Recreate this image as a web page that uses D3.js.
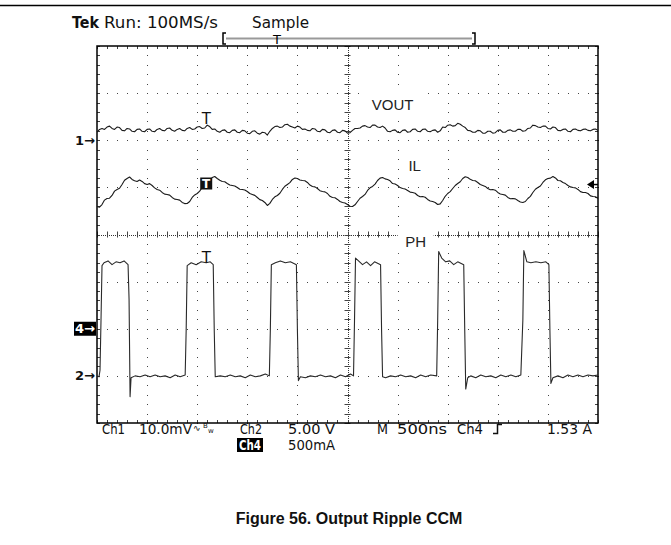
<!DOCTYPE html>
<html>
<head>
<meta charset="utf-8">
<script src="https://d3js.org/d3.v7.min.js"></script>
<style>
  body { margin: 0; background: #fff; }
  svg { display: block; }
</style>
</head>
<body>
<svg></svg>
<script>
// Tek scope capture: Output Ripple CCM (500 ns/div, 10 divisions)

let width = 671,
    height = 545;

// screen frame (graticule)
let X0 = 97, X1 = 598, Y0 = 46, Y1 = 423;

// sampling of the smooth traces (ns between samples)
let sampleNs = 25;

// CH1 VOUT ripple, mV above its ground marker, one sample every 25 ns
let voutMv = [
  1.7, 2.3, 2.5, 2.3, 2.8, 3.0, 2.5, 2.3, 2.8, 2.7, 2.1, 2.0, 2.5, 2.4, 1.9, 1.8, 2.3, 2.4, 1.9, 1.8,
  2.3, 2.4, 1.9, 1.8, 2.3, 2.5, 2.1, 2.0, 2.5, 2.6, 2.1, 1.9, 2.3, 2.5, 2.1, 2.0, 2.5, 2.7, 2.3, 2.4,
  2.8, 2.9, 2.5, 2.6, 3.2, 2.9, 2.3, 2.4, 1.9, 1.7, 2.1, 2.2, 1.7, 1.6, 2.1, 2.2, 1.7, 1.6, 2.1, 2.0,
  1.5, 1.4, 1.9, 2.0, 1.5, 1.3, 1.7, 1.6, 1.1, 1.9, 2.5, 2.9, 3.0, 2.7, 2.8, 3.3, 3.4, 3.0, 2.8, 2.6,
  3.0, 2.8, 2.3, 2.4, 2.1, 2.0, 2.5, 2.4, 1.9, 1.8, 2.3, 2.2, 1.7, 1.6, 2.1, 2.2, 1.7, 1.6, 2.1, 2.0,
  1.5, 1.6, 2.1, 2.5, 2.5, 2.6, 3.0, 3.1, 2.8, 2.7, 3.2, 3.2, 2.8, 2.7, 3.0, 2.6, 1.9, 1.8, 2.1, 2.2,
  1.7, 1.6, 2.1, 2.2, 1.7, 1.8, 2.3, 2.4, 1.9, 1.8, 2.3, 2.4, 1.9, 1.8, 2.1, 2.2, 1.7, 2.0, 2.8, 2.7,
  3.2, 3.3, 3.0, 3.1, 3.6, 3.4, 3.0, 2.7, 2.1, 2.0, 1.7, 1.7, 2.1, 2.0, 1.5, 1.5, 1.9, 1.9, 1.5, 1.6,
  2.1, 2.2, 1.7, 1.7, 2.1, 2.2, 1.9, 1.9, 2.3, 2.3, 1.9, 2.0, 2.5, 2.6, 3.2, 3.1, 2.8, 2.7, 3.0, 3.0,
  2.5, 2.4, 2.8, 2.7, 2.1, 2.0, 2.3, 2.4, 1.9, 1.8, 2.3, 2.4, 2.1, 2.0, 2.3, 2.4, 2.1, 2.0, 2.3, 2.4,
  2.1
];

// CH4 inductor current IL, amps, one sample every 25 ns
let ilAmps = [
  1.297, 1.290, 1.318, 1.365, 1.382, 1.385, 1.414, 1.460, 1.478, 1.490, 1.531, 1.575, 1.594, 1.610, 1.584, 1.570, 1.563, 1.578, 1.563, 1.540,
  1.531, 1.540, 1.520, 1.495, 1.478, 1.470, 1.446, 1.428, 1.425, 1.418, 1.393, 1.375, 1.372, 1.365, 1.340, 1.328, 1.329, 1.350, 1.393, 1.420,
  1.435, 1.460, 1.499, 1.525, 1.541, 1.570, 1.605, 1.615, 1.594, 1.575, 1.563, 1.560, 1.541, 1.525, 1.520, 1.515, 1.499, 1.480, 1.478, 1.472,
  1.456, 1.435, 1.425, 1.415, 1.393, 1.370, 1.361, 1.340, 1.308, 1.330, 1.372, 1.400, 1.414, 1.438, 1.478, 1.512, 1.531, 1.550, 1.584, 1.600,
  1.594, 1.578, 1.573, 1.570, 1.552, 1.525, 1.510, 1.505, 1.488, 1.465, 1.456, 1.452, 1.435, 1.405, 1.393, 1.390, 1.372, 1.350, 1.340, 1.335,
  1.318, 1.300, 1.297, 1.315, 1.350, 1.385, 1.403, 1.425, 1.467, 1.495, 1.510, 1.535, 1.573, 1.598, 1.605, 1.590, 1.584, 1.570, 1.541, 1.535,
  1.520, 1.498, 1.488, 1.482, 1.467, 1.450, 1.446, 1.438, 1.414, 1.400, 1.403, 1.395, 1.372, 1.355, 1.350, 1.340, 1.318, 1.325, 1.361, 1.405,
  1.435, 1.455, 1.488, 1.520, 1.541, 1.560, 1.594, 1.612, 1.605, 1.585, 1.573, 1.570, 1.552, 1.530, 1.520, 1.510, 1.488, 1.475, 1.478, 1.470,
  1.446, 1.430, 1.425, 1.418, 1.393, 1.380, 1.382, 1.378, 1.361, 1.345, 1.340, 1.350, 1.382, 1.405, 1.446, 1.480, 1.499, 1.515, 1.552, 1.580,
  1.594, 1.598, 1.616, 1.600, 1.573, 1.570, 1.552, 1.540, 1.520, 1.505, 1.499, 1.495, 1.478, 1.455, 1.446, 1.445, 1.435, 1.410, 1.403, 1.400,
  1.382
];

// CH2 phase node PH, breakpoints (time ns, volts)
let phNs = [
  0, 20, 30, 40, 50, 70, 110, 150, 190, 230, 270, 310, 320, 330, 340, 380, 430, 480, 530, 580, 630, 680, 730, 780, 830, 880,
  890, 900, 940, 990, 1040, 1090, 1130, 1160, 1170, 1180, 1230, 1280, 1330, 1380, 1430, 1480, 1530, 1580, 1630, 1680, 1720,
  1730, 1740, 1780, 1830, 1880, 1930, 1990, 2000, 2010, 2030, 2080, 2130, 2180, 2230, 2280, 2330, 2380, 2430, 2480, 2530, 2560,
  2570, 2580, 2610, 2650, 2690, 2730, 2770, 2830, 2840, 2850, 2880, 2930, 2980, 3030, 3080, 3130, 3180, 3230, 3280, 3330, 3390,
  3400, 3410, 3440, 3480, 3520, 3560, 3600, 3660, 3670, 3680, 3700, 3730, 3780, 3830, 3880, 3930, 3980, 4030, 4080, 4130, 4180, 4230,
  4250, 4260, 4290, 4330, 4380, 4430, 4480, 4510, 4520, 4530, 4550, 4600, 4650, 4700, 4750, 4800, 4850, 4900, 4950, 5000
];
let phV = [
  0, -0.1, 0.6, 5.9, 11.7, 12.0, 12.2, 11.8, 12.1, 12.0, 12.2, 11.8, 8.1, -2.2, -0.2, 0, -0.1, 0.1, -0.1, 0.1, -0.1, 0, -0.2, 0.1, -0.1, 0.1,
  4.9, 11.7, 12.0, 11.8, 12.1, 12.0, 12.1, 11.8, 4.9, -0.1, 0, -0.1, 0.1, -0.1, 0, -0.2, 0.1, -0.1, 0, 0.2, 0,
  4.9, 11.8, 12.0, 12.2, 12.0, 12.1, 11.8, 4.9, -0.5, -0.1, -0.2, 0, -0.1, 0.1, -0.1, 0, -0.2, 0.1, -0.1, 0.2, 0,
  5.9, 12.5, 12.2, 11.8, 12.1, 11.7, 12.1, 11.8, 4.9, -0.1, -0.2, 0, -0.1, 0.1, -0.1, 0, -0.2, 0.1, -0.1, 0.1, 0,
  5.9, 13.2, 12.5, 12.1, 12.2, 11.8, 12.1, 11.8, 4.9, -1.4, -0.2, 0, -0.2, 0.1, -0.1, 0, -0.2, 0.1, -0.1, 0.1, -0.1, 0.1,
  5.9, 13.3, 12.1, 12.0, 12.1, 12.0, 12.1, 11.8, 4.9, -0.8, -0.2, 0, -0.2, 0.1, -0.1, 0.1, -0.1, 0.1, 0, 0.1
];

// channel setup: volts (or amps) per division and ground marker offset in divisions
let ch1 = { perDiv: 10, offset: 2 };     // 10.0 mV
let ch2 = { perDiv: 5, offset: -3 };     // 5.00 V
let ch4 = { perDiv: 0.5, offset: -2 };   // 500 mA
let trigNs = 1090;
let trigLevel = 1.53;

let traceLabels = ["VOUT", "IL", "PH"];
let topLine = ["Tek", "Run: 100MS/s", "Sample"];
let bottomLine1 = ["Ch1", "10.0mV", "Ch2", "5.00 V", "M", "500ns", "Ch4", "1.53 A"];
let bottomLine2 = ["Ch4", "500mA"];
let caption = "Figure 56. Output Ripple CCM";

let svg = d3.select("svg")
    .attr("width", width)
    .attr("height", height)
    .style("background", "#fff");

let x = d3.scaleLinear().domain([0, 5000]).range([X0, X1]);
let xDiv = d3.scaleLinear().domain([0, 10]).range([X0, X1]);
let yDiv = d3.scaleLinear().domain([-4, 4]).range([Y1, Y0]);

function chY(ch) {
    return v => yDiv(ch.offset + v / ch.perDiv);
}
let y1 = chY(ch1), y2 = chY(ch2), y4 = chY(ch4);

// page rule on top
svg.append("line").attr("x1", 0).attr("x2", width).attr("y1", 5.5).attr("y2", 5.5)
    .attr("stroke", "#000").attr("stroke-width", 1.5);

// ---------- graticule ----------
let grid = svg.append("g");
let minor = d3.range(0, 10.01, 0.2);
let minorY = d3.range(-4, 4.01, 0.2);

// dotted major lines (dots every minor division)
[1, 2, 3, 4, 6, 7, 8, 9].forEach(i => {
    grid.selectAll(null).data(minorY).enter().append("rect")
        .attr("x", Math.round(xDiv(i)))
        .attr("y", d => Math.round(yDiv(d)))
        .attr("width", 1).attr("height", 1).attr("fill", "#444");
});
[-3, -2, -1, 1, 2, 3].forEach(k => {
    grid.selectAll(null).data(minor).enter().append("rect")
        .attr("x", d => Math.round(xDiv(d)))
        .attr("y", Math.round(yDiv(k)))
        .attr("width", 1).attr("height", 1).attr("fill", "#444");
});

// centre cross hairs with ticks
grid.append("line")
    .attr("x1", X0).attr("x2", X1)
    .attr("y1", Math.round(yDiv(0)) + 0.5).attr("y2", Math.round(yDiv(0)) + 0.5)
    .attr("stroke", "#333").attr("stroke-dasharray", "1,1");
grid.append("line")
    .attr("y1", Y0).attr("y2", Y1)
    .attr("x1", Math.round(xDiv(5)) + 0.5).attr("x2", Math.round(xDiv(5)) + 0.5)
    .attr("stroke", "#333").attr("stroke-dasharray", "1,1");
grid.selectAll(null).data(minor).enter().append("line")
    .attr("x1", d => Math.round(xDiv(d)) + 0.5).attr("x2", d => Math.round(xDiv(d)) + 0.5)
    .attr("y1", yDiv(0) - 3).attr("y2", yDiv(0) + 3)
    .attr("stroke", "#444");
grid.selectAll(null).data(minorY).enter().append("line")
    .attr("y1", d => Math.round(yDiv(d)) + 0.5).attr("y2", d => Math.round(yDiv(d)) + 0.5)
    .attr("x1", xDiv(5) - 3).attr("x2", xDiv(5) + 3)
    .attr("stroke", "#444");

// edge ticks
grid.selectAll(null).data(minor).enter().append("line")
    .attr("x1", d => Math.round(xDiv(d)) + 0.5).attr("x2", d => Math.round(xDiv(d)) + 0.5)
    .attr("y1", Y0).attr("y2", Y0 + 3).attr("stroke", "#444");
grid.selectAll(null).data(minor).enter().append("line")
    .attr("x1", d => Math.round(xDiv(d)) + 0.5).attr("x2", d => Math.round(xDiv(d)) + 0.5)
    .attr("y1", Y1).attr("y2", Y1 - 3).attr("stroke", "#444");
grid.selectAll(null).data(minorY).enter().append("line")
    .attr("y1", d => Math.round(yDiv(d)) + 0.5).attr("y2", d => Math.round(yDiv(d)) + 0.5)
    .attr("x1", X0).attr("x2", X0 + 3).attr("stroke", "#444");
grid.selectAll(null).data(minorY).enter().append("line")
    .attr("y1", d => Math.round(yDiv(d)) + 0.5).attr("y2", d => Math.round(yDiv(d)) + 0.5)
    .attr("x1", X1).attr("x2", X1 - 3).attr("stroke", "#444");

// frame
grid.append("rect")
    .attr("x", X0).attr("y", Y0)
    .attr("width", X1 - X0).attr("height", Y1 - Y0)
    .attr("fill", "none").attr("stroke", "#000").attr("stroke-width", 1.5);

// ---------- trace labels (white boxes over the grid) ----------
let labelPos = [
    { t: 2950, v: 7.6, ch: ch1, w: 54, h: 26 },   // VOUT
    { t: 3170, v: 1.73, ch: ch4, w: 30, h: 22 },  // IL
    { t: 3180, v: 14.3, ch: ch2, w: 36, h: 24 }   // PH (sits on centre line)
];
traceLabels.forEach((name, i) => {
    let p = labelPos[i];
    let cx = x(p.t), cy = chY(p.ch)(p.v);
    svg.append("rect")
        .attr("x", cx - p.w / 2).attr("y", cy - p.h / 2)
        .attr("width", p.w).attr("height", p.h)
        .attr("fill", "#fff");
    svg.append("text")
        .attr("x", cx).attr("y", cy + 5.5)
        .attr("text-anchor", "middle")
        .attr("font-family", "Liberation Sans, Arial, sans-serif")
        .attr("font-size", 15)
        .attr("fill", "#222")
        .text(name);
});

// ---------- traces ----------
let traces = svg.append("g")
    .attr("fill", "none")
    .attr("stroke", "#1a1a1a")
    .attr("stroke-width", 1.1)
    .attr("stroke-linejoin", "round");

traces.append("path")
    .attr("d", d3.line()
        .x((d, i) => x(i * sampleNs))
        .y(d => y1(d))(voutMv));

traces.append("path")
    .attr("d", d3.line()
        .x((d, i) => x(i * sampleNs))
        .y(d => y4(d))(ilAmps));

traces.append("path")
    .attr("stroke", "#2a2a2a")
    .attr("d", d3.line()
        .x((d, i) => x(phNs[i]))
        .y(d => y2(d))(phV));

// trigger "T" markers
let tx = x(trigNs);
let ilAtTrig = ilAmps[Math.round(trigNs / sampleNs)];
let voutAtTrig = voutMv[Math.round(trigNs / sampleNs)];
svg.append("text")
    .attr("x", tx).attr("y", y1(voutAtTrig) - 1)
    .attr("text-anchor", "middle")
    .attr("font-family", "DejaVu Sans, sans-serif").attr("font-size", 15)
    .attr("fill", "#111").text("T");
svg.append("rect")
    .attr("x", tx - 6).attr("y", y4(ilAtTrig) - 6)
    .attr("width", 12).attr("height", 12).attr("fill", "#111");
svg.append("text")
    .attr("x", tx).attr("y", y4(ilAtTrig) + 4.5)
    .attr("text-anchor", "middle")
    .attr("font-family", "DejaVu Sans, sans-serif").attr("font-size", 12).attr("font-weight", "bold")
    .attr("fill", "#fff").text("T");
svg.append("text")
    .attr("x", tx).attr("y", y2(12.0))
    .attr("text-anchor", "middle")
    .attr("font-family", "DejaVu Sans, sans-serif").attr("font-size", 15)
    .attr("fill", "#111").text("T");

// ---------- channel ground markers ----------
let scopeFont = "DejaVu Sans, sans-serif";
function gndMarker(label, yy, inverted) {
    if (inverted) {
        svg.append("rect").attr("x", 74).attr("y", yy - 7)
            .attr("width", 22).attr("height", 14).attr("fill", "#000");
    }
    svg.append("text")
        .attr("x", 95).attr("y", yy + 4.5)
        .attr("text-anchor", "end")
        .attr("font-family", scopeFont).attr("font-size", 13)
        .attr("font-weight", "bold")
        .attr("fill", inverted ? "#fff" : "#111")
        .text(label + "\u2192");
}
gndMarker("1", y1(0), false);
gndMarker("4", y4(0), true);
gndMarker("2", y2(0), false);

// trigger level arrow on the right edge
let ty = y4(trigLevel);
svg.append("path")
    .attr("d", `M${X1 - 11},${ty} L${X1 - 4},${ty - 4.5} L${X1 - 4},${ty + 4.5} Z`)
    .attr("fill", "#000");
svg.append("line").attr("x1", X1 - 5).attr("x2", X1).attr("y1", ty).attr("y2", ty)
    .attr("stroke", "#000").attr("stroke-width", 1.5);

// ---------- header ----------
let head = svg.append("g")
    .attr("font-family", scopeFont).attr("font-size", 15).attr("fill", "#111");
head.append("text").attr("x", 72).attr("y", 28).attr("font-weight", "bold")
    .attr("textLength", 27).attr("lengthAdjust", "spacingAndGlyphs").text(topLine[0]);
head.append("text").attr("x", 104).attr("y", 28)
    .attr("textLength", 114).attr("lengthAdjust", "spacingAndGlyphs").text(topLine[1]);
head.append("text").attr("x", 252).attr("y", 28)
    .attr("textLength", 57).attr("lengthAdjust", "spacingAndGlyphs").text(topLine[2]);

// record window bar with trigger position
let barY = 38.5;
head.append("line").attr("x1", 226).attr("x2", 472).attr("y1", barY).attr("y2", barY)
    .attr("stroke", "#999").attr("stroke-width", 2);
head.append("path").attr("d", `M226,33 H223 V44 H226`).attr("fill", "none")
    .attr("stroke", "#000").attr("stroke-width", 1.5);
head.append("path").attr("d", `M472,33 H475 V44 H472`).attr("fill", "none")
    .attr("stroke", "#000").attr("stroke-width", 1.5);
head.append("text").attr("x", 277).attr("y", 44).attr("text-anchor", "middle")
    .attr("font-size", 13).attr("fill", "#000").text("T");

// ---------- status line ----------
let foot = svg.append("g")
    .attr("font-family", scopeFont).attr("font-size", 14).attr("fill", "#111");
let footX = [102, 139, 240, 288, 377, 397, 457, 547];
let footW = [23, 53, 22, 47, 11, 50, 26, 45];
bottomLine1.forEach((s, i) => {
    foot.append("text").attr("x", footX[i]).attr("y", 434)
        .attr("textLength", footW[i]).attr("lengthAdjust", "spacingAndGlyphs").text(s);
});
// bandwidth limit glyphs after 10.0mV
foot.append("text").attr("x", 193).attr("y", 431).attr("font-size", 9).text("\u223F");
foot.append("text").attr("x", 203).attr("y", 428).attr("font-size", 7).text("B");
foot.append("text").attr("x", 208).attr("y", 433).attr("font-size", 7).text("w");
// rising slope glyph
foot.append("path").attr("d", "M493,433.5 H497.5 V424.5 H502")
    .attr("fill", "none").attr("stroke", "#111").attr("stroke-width", 1.5);
// second row
foot.append("rect").attr("x", 237).attr("y", 438).attr("width", 26).attr("height", 14).attr("fill", "#000");
foot.append("text").attr("x", 239).attr("y", 450).attr("fill", "#fff").attr("font-weight", "bold")
    .attr("textLength", 22).attr("lengthAdjust", "spacingAndGlyphs").text(bottomLine2[0]);
foot.append("text").attr("x", 288).attr("y", 450)
    .attr("textLength", 47).attr("lengthAdjust", "spacingAndGlyphs").text(bottomLine2[1]);

// ---------- caption ----------
svg.append("text")
    .attr("x", 349).attr("y", 524)
    .attr("text-anchor", "middle")
    .attr("font-family", "Liberation Sans, Arial, sans-serif")
    .attr("font-size", 16).attr("font-weight", "bold")
    .attr("fill", "#111")
    .text(caption);
</script>
</body>
</html>
